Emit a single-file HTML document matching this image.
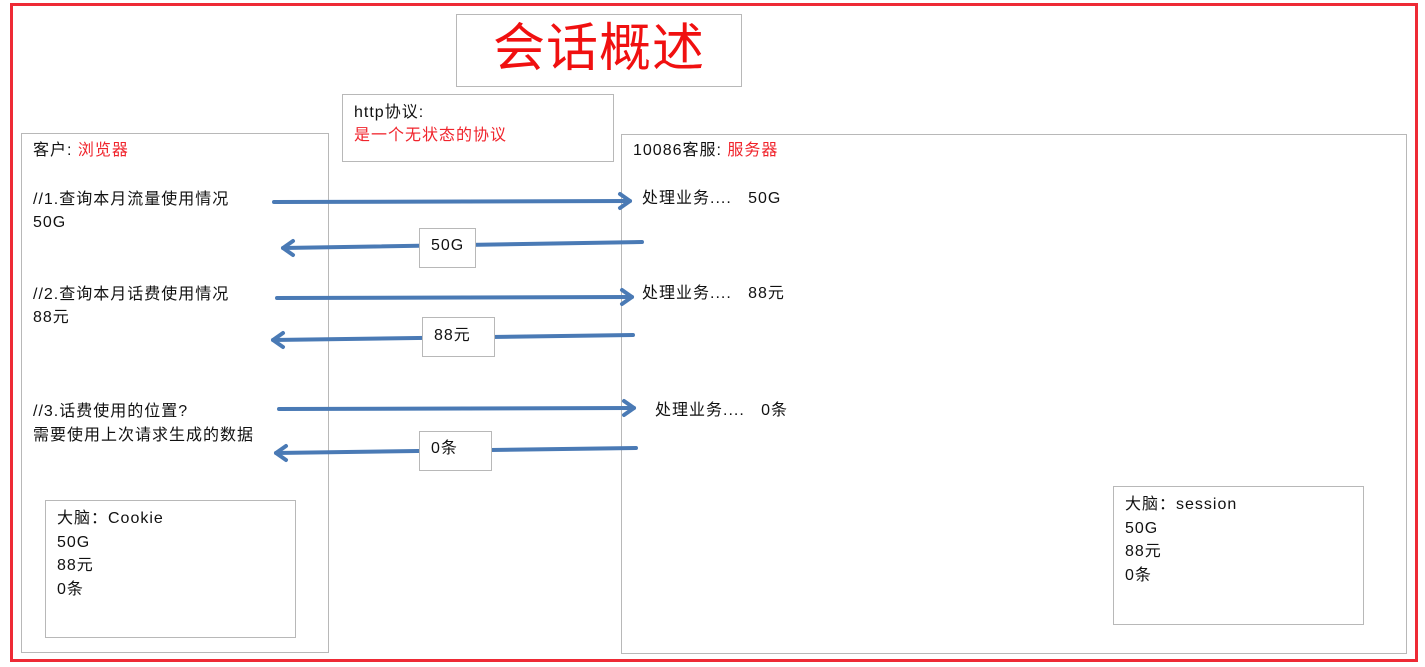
<!DOCTYPE html>
<html><head><meta charset="utf-8"><style>
body{margin:0;width:1425px;height:667px;background:#fff;position:relative;overflow:hidden;font-family:"Liberation Sans","Noto Sans CJK SC",sans-serif;font-size:16px;color:#111}
.a{position:absolute}
.box{position:absolute;border:1px solid #b8b8b8;box-sizing:border-box;background:#fff}
.r{color:#f0242c}
.t{position:absolute;white-space:nowrap;line-height:20px;letter-spacing:1px}
</style></head><body>
<div class="a" style="left:10px;top:3px;width:1408px;height:659px;border:3px solid #ee2a35;box-sizing:border-box"></div>
<div class="box" style="left:456px;top:14px;width:286px;height:73px"></div>
<div class="t" style="left:456px;top:17px;width:286px;text-align:center;font-size:52px;line-height:64px;color:#f01010;letter-spacing:1px">会话概述</div>
<div class="box" style="left:342px;top:94px;width:272px;height:68px"></div>
<div class="t" style="left:354px;top:101px;line-height:23px">http协议:<br><span class="r">是一个无状态的协议</span></div>
<div class="box" style="left:21px;top:133px;width:308px;height:520px"></div>
<div class="t" style="left:33px;top:141px">客户: <span class="r">浏览器</span></div>
<div class="t" style="left:33px;top:188px;line-height:23px">//1.查询本月流量使用情况<br>50G</div>
<div class="t" style="left:33px;top:283px;line-height:23px">//2.查询本月话费使用情况<br>88元</div>
<div class="t" style="left:33px;top:400px;line-height:24px">//3.话费使用的位置?<br>需要使用上次请求生成的数据</div>
<div class="box" style="left:45px;top:500px;width:251px;height:138px"></div>
<div class="t" style="left:57px;top:507px;line-height:23.5px">大脑：Cookie<br>50G<br>88元<br>0条</div>
<div class="box" style="left:621px;top:134px;width:786px;height:520px"></div>
<div class="t" style="left:633px;top:141px">10086客服: <span class="r">服务器</span></div>
<div class="t" style="left:642px;top:189px">处理业务....&nbsp;&nbsp; 50G</div>
<div class="t" style="left:642px;top:284px">处理业务....&nbsp;&nbsp; 88元</div>
<div class="t" style="left:655px;top:401px">处理业务....&nbsp;&nbsp; 0条</div>
<div class="box" style="left:1113px;top:486px;width:251px;height:139px"></div>
<div class="t" style="left:1125px;top:493px;line-height:23.5px">大脑：session<br>50G<br>88元<br>0条</div>
<svg class="a" style="left:0;top:0" width="1425" height="667">
<g stroke="#4a7ab5" stroke-width="4" fill="none" stroke-linecap="round" stroke-linejoin="round">
<line x1="274" y1="202" x2="630" y2="201"/><polyline points="620,194 630,201 620,208"/>
<line x1="642" y1="242" x2="283" y2="248"/><polyline points="293,241 283,248 293,255"/>
<line x1="277" y1="298" x2="632" y2="297"/><polyline points="622,290 632,297 622,304"/>
<line x1="633" y1="335" x2="273" y2="340"/><polyline points="283,333 273,340 283,347"/>
<line x1="279" y1="409" x2="634" y2="408"/><polyline points="624,401 634,408 624,415"/>
<line x1="636" y1="448" x2="276" y2="453"/><polyline points="286,446 276,453 286,460"/>
</g></svg>
<div class="box" style="left:419px;top:228px;width:57px;height:40px"></div>
<div class="t" style="left:431px;top:236px">50G</div>
<div class="box" style="left:422px;top:317px;width:73px;height:40px"></div>
<div class="t" style="left:434px;top:326px">88元</div>
<div class="box" style="left:419px;top:431px;width:73px;height:40px"></div>
<div class="t" style="left:431px;top:439px">0条</div>
</body></html>
